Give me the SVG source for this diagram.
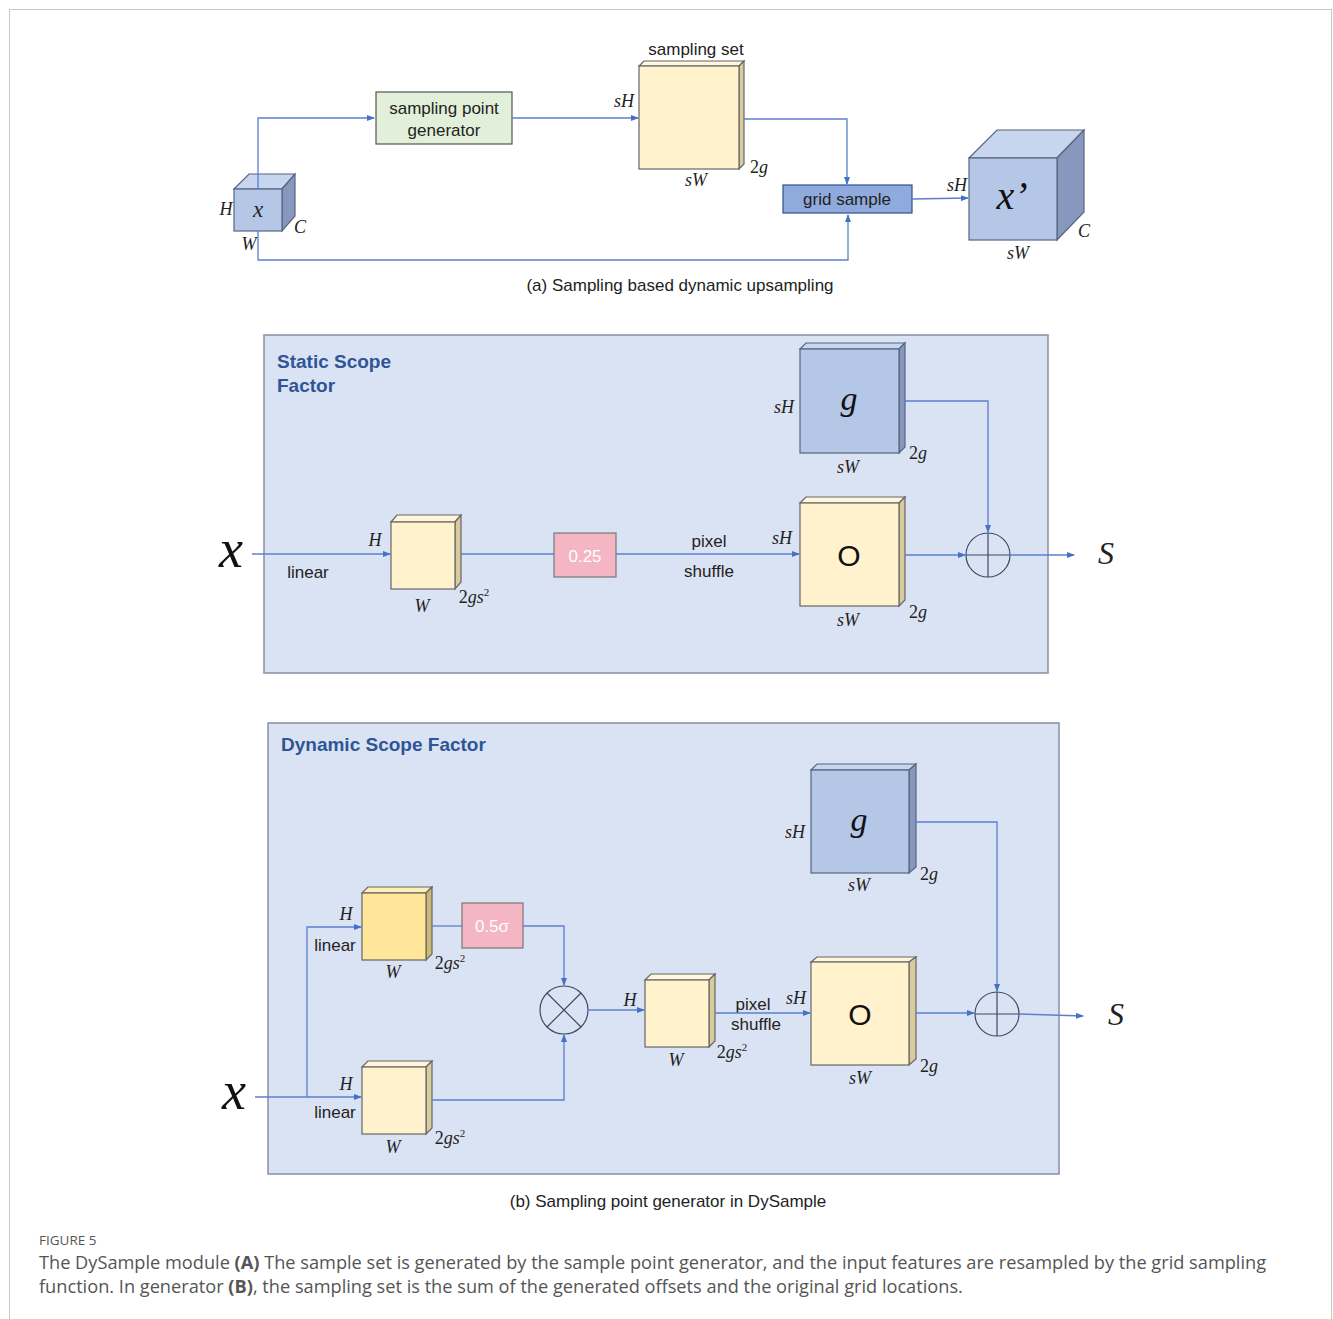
<svg xmlns="http://www.w3.org/2000/svg" width="1333" height="1319" viewBox="0 0 1333 1319">
<style>
.t{font-family:"Liberation Sans",Arial,sans-serif;fill:#222;text-anchor:middle}
.m{font-family:"Liberation Serif","DejaVu Serif",serif;font-style:italic;fill:#222;text-anchor:middle}
.big{font-family:"Liberation Serif","DejaVu Serif",serif;font-style:italic;fill:#111;text-anchor:middle}
.ttl{font-family:"Liberation Sans",Arial,sans-serif;font-weight:bold;font-size:19px;fill:#2f5597}
.c{fill:none;stroke:#5b7fcf;stroke-width:1.3}
.bf{fill:#b4c7e7;stroke:#56657f;stroke-width:1.2}
.bt{fill:#c8d5ee;stroke:#56657f;stroke-width:1.2}
.bs{fill:#8797bd;stroke:#56657f;stroke-width:1.2}
.yf{fill:#fff2cc;stroke:#666;stroke-width:1.2}
.yt{fill:#fff6dc;stroke:#666;stroke-width:1.2}
.ys{fill:#d8cb9c;stroke:#666;stroke-width:1.2}
.df{fill:#ffe699;stroke:#666;stroke-width:1.2}
.dt{fill:#ffefbb;stroke:#666;stroke-width:1.2}
.ds{fill:#cdb874;stroke:#666;stroke-width:1.2}
.panel{fill:#dae3f3;stroke:#8590a3;stroke-width:1.5}
.pink{fill:#f4b6c2;stroke:#777;stroke-width:1.2}
.op{fill:none;stroke:#3c4a66;stroke-width:1.2}
.cap{font-family:"Open Sans","Liberation Sans",sans-serif;fill:#555}
</style>
<defs>
<marker id="ah" markerUnits="userSpaceOnUse" markerWidth="8" markerHeight="6" refX="7" refY="3" orient="auto">
<path d="M0,0 L8,3 L0,6 z" fill="#4472c4"/>
</marker>
</defs>
<rect x="9.5" y="9.5" width="1322" height="1330" fill="#fff" stroke="#c8c8c8" stroke-width="1"/>

<!-- panels -->
<g id="static-panel">
<rect class="panel" x="264" y="335" width="784" height="338"/>
<text class="ttl" x="277" y="368">Static Scope</text>
<text class="ttl" x="277" y="392">Factor</text>
</g>
<g id="dynamic-panel">
<rect class="panel" x="268" y="723" width="791" height="451"/>
<text class="ttl" x="281" y="751">Dynamic Scope Factor</text>
</g>

<!-- section (a) -->
<g id="x-cube">
<polygon class="bt" points="234,189 249,174 295,174 282,189"/>
<polygon class="bs" points="282,189 295,174 295,216 282,231"/>
<rect class="bf" x="234" y="189" width="48" height="42"/>
<text class="m" x="258" y="217" font-size="23">x</text>
<text class="m" x="226" y="215" font-size="18">H</text>
<text class="m" x="300" y="233" font-size="18">C</text>
<text class="m" x="249" y="250" font-size="18">W</text>
</g>
<g id="sampling-point-generator">
<rect x="376" y="92" width="136" height="52" fill="#e2f0d9" stroke="#555" stroke-width="1.2"/>
<text class="t" x="444" y="114" font-size="17">sampling point</text>
<text class="t" x="444" y="136" font-size="17">generator</text>
</g>
<g id="sampling-set">
<polygon class="yt" points="639,66 644,61 744,61 739,66"/>
<polygon class="ys" points="739,66 744,61 744,164 739,169"/>
<rect class="yf" x="639" y="66" width="100" height="103"/>
<text class="t" x="696" y="55" font-size="17">sampling set</text>
<text class="m" x="624" y="107" font-size="18">sH</text>
<text class="m" x="696" y="186" font-size="18">sW</text>
<text class="m" x="759" y="173" font-size="18"><tspan font-style="normal">2</tspan>g</text>
</g>
<g id="grid-sample">
<rect x="783" y="185" width="129" height="28" fill="#8faadc" stroke="#2f4f8f" stroke-width="1.2"/>
<text class="t" x="847" y="205" font-size="17">grid sample</text>
</g>
<g id="x-prime-cube">
<polygon class="bt" points="969,158 997,130 1084,130 1057,158"/>
<polygon class="bs" points="1057,158 1084,130 1084,212 1057,240"/>
<rect class="bf" x="969" y="158" width="88" height="82"/>
<text class="big" x="1012" y="209" font-size="40">x’</text>
<text class="m" x="957" y="191" font-size="18">sH</text>
<text class="m" x="1084" y="237" font-size="18">C</text>
<text class="m" x="1018" y="259" font-size="18">sW</text>
</g>
<text class="t" x="680" y="291" font-size="17">(a) Sampling based dynamic upsampling</text>

<!-- static section -->
<g id="s-x">
<text class="big" x="231" y="567" font-size="54">x</text>
<text class="t" x="308" y="578" font-size="17">linear</text>
</g>
<g id="s-feat">
<polygon class="yt" points="391,522 397,515 461,515 455,522"/>
<polygon class="ys" points="455,522 461,515 461,582 455,589"/>
<rect class="yf" x="391" y="522" width="64" height="67"/>
<text class="m" x="375" y="546" font-size="18">H</text>
<text class="m" x="422" y="612" font-size="18">W</text>
<text class="m" x="474" y="603" font-size="18"><tspan font-style="normal">2</tspan>gs<tspan font-style="normal" font-size="11" dy="-7">2</tspan></text>
</g>
<g id="s-025">
<rect class="pink" x="554" y="533" width="62" height="44"/>
<text class="t" x="585" y="562" font-size="17" style="fill:#fff">0.25</text>
</g>
<g id="s-pixel-shuffle">
<text class="t" x="709" y="547" font-size="17">pixel</text>
<text class="t" x="709" y="577" font-size="17">shuffle</text>
</g>
<g id="s-g">
<polygon class="bt" points="800,349 806,343 905,343 899,349"/>
<polygon class="bs" points="899,349 905,343 905,447 899,453"/>
<rect class="bf" x="800" y="349" width="99" height="104"/>
<text class="big" x="849" y="410" font-size="34">g</text>
<text class="m" x="784" y="413" font-size="18">sH</text>
<text class="m" x="848" y="473" font-size="18">sW</text>
<text class="m" x="918" y="459" font-size="18"><tspan font-style="normal">2</tspan>g</text>
</g>
<g id="s-O">
<polygon class="yt" points="800,503 806,497 905,497 899,503"/>
<polygon class="ys" points="899,503 905,497 905,600 899,606"/>
<rect class="yf" x="800" y="503" width="99" height="103"/>
<text class="t" x="849" y="566" font-size="30" style="fill:#111">O</text>
<text class="m" x="782" y="544" font-size="18">sH</text>
<text class="m" x="848" y="626" font-size="18">sW</text>
<text class="m" x="918" y="618" font-size="18"><tspan font-style="normal">2</tspan>g</text>
</g>
<g id="s-plus">
<circle class="op" cx="988" cy="555" r="22"/>
<path class="op" d="M966,555 H1010 M988,533 V577"/>
</g>
<text id="s-S" class="m" x="1106" y="564" font-size="32">S</text>

<!-- dynamic section -->
<g id="d-x">
<text class="big" x="234" y="1109" font-size="54">x</text>
</g>
<g id="d-feat-top">
<polygon class="dt" points="362,893 368,887 432,887 426,893"/>
<polygon class="ds" points="426,893 432,887 432,954 426,960"/>
<rect class="df" x="362" y="893" width="64" height="67"/>
<text class="m" x="346" y="920" font-size="18">H</text>
<text class="t" x="335" y="951" font-size="17">linear</text>
<text class="m" x="393" y="978" font-size="18">W</text>
<text class="m" x="450" y="969" font-size="18"><tspan font-style="normal">2</tspan>gs<tspan font-style="normal" font-size="11" dy="-7">2</tspan></text>
</g>
<g id="d-05sigma">
<rect class="pink" x="462" y="903" width="61" height="45"/>
<text class="t" x="492" y="932" font-size="17" style="fill:#fff">0.5σ</text>
</g>
<g id="d-feat-bottom">
<polygon class="yt" points="362,1067 368,1061 432,1061 426,1067"/>
<polygon class="ys" points="426,1067 432,1061 432,1128 426,1134"/>
<rect class="yf" x="362" y="1067" width="64" height="67"/>
<text class="m" x="346" y="1090" font-size="18">H</text>
<text class="t" x="335" y="1118" font-size="17">linear</text>
<text class="m" x="393" y="1153" font-size="18">W</text>
<text class="m" x="450" y="1144" font-size="18"><tspan font-style="normal">2</tspan>gs<tspan font-style="normal" font-size="11" dy="-7">2</tspan></text>
</g>
<g id="d-times">
<circle class="op" cx="564" cy="1010" r="24"/>
<path class="op" d="M547,993 L581,1027 M581,993 L547,1027"/>
</g>
<g id="d-feat-mid">
<polygon class="yt" points="645,980 651,974 715,974 709,980"/>
<polygon class="ys" points="709,980 715,974 715,1041 709,1047"/>
<rect class="yf" x="645" y="980" width="64" height="67"/>
<text class="m" x="630" y="1006" font-size="18">H</text>
<text class="m" x="676" y="1066" font-size="18">W</text>
<text class="m" x="732" y="1058" font-size="18"><tspan font-style="normal">2</tspan>gs<tspan font-style="normal" font-size="11" dy="-7">2</tspan></text>
</g>
<g id="d-pixel-shuffle">
<text class="t" x="753" y="1010" font-size="17">pixel</text>
<text class="t" x="756" y="1030" font-size="17">shuffle</text>
</g>
<g id="d-g">
<polygon class="bt" points="811,770 817,764 916,764 909,770"/>
<polygon class="bs" points="909,770 916,764 916,867 909,873"/>
<rect class="bf" x="811" y="770" width="98" height="103"/>
<text class="big" x="859" y="831" font-size="34">g</text>
<text class="m" x="795" y="838" font-size="18">sH</text>
<text class="m" x="859" y="891" font-size="18">sW</text>
<text class="m" x="929" y="880" font-size="18"><tspan font-style="normal">2</tspan>g</text>
</g>
<g id="d-O">
<polygon class="yt" points="811,962 817,957 916,957 909,962"/>
<polygon class="ys" points="909,962 916,957 916,1059 909,1065"/>
<rect class="yf" x="811" y="962" width="98" height="103"/>
<text class="t" x="860" y="1025" font-size="30" style="fill:#111">O</text>
<text class="m" x="796" y="1004" font-size="18">sH</text>
<text class="m" x="860" y="1084" font-size="18">sW</text>
<text class="m" x="929" y="1072" font-size="18"><tspan font-style="normal">2</tspan>g</text>
</g>
<g id="d-plus">
<circle class="op" cx="997" cy="1014" r="22"/>
<path class="op" d="M975,1014 H1019 M997,992 V1036"/>
</g>
<text id="d-S" class="m" x="1116" y="1025" font-size="32">S</text>
<text class="t" x="668" y="1207" font-size="17">(b) Sampling point generator in DySample</text>

<!-- connectors -->
<g id="connectors">
<path class="c" d="M258,189 V118 H374" marker-end="url(#ah)"/>
<path class="c" d="M258,231 V260 H848 V215" marker-end="url(#ah)"/>
<path class="c" d="M512,118 H638" marker-end="url(#ah)"/>
<path class="c" d="M744,119 H847 V184" marker-end="url(#ah)"/>
<path class="c" d="M912,199 L968,198" marker-end="url(#ah)"/>
<path class="c" d="M252,554 H390" marker-end="url(#ah)"/>
<path class="c" d="M461,554 H554"/>
<path class="c" d="M616,554 H799" marker-end="url(#ah)"/>
<path class="c" d="M905,401 H988 V532" marker-end="url(#ah)"/>
<path class="c" d="M905,555 H965" marker-end="url(#ah)"/>
<path class="c" d="M1010,555 H1074" marker-end="url(#ah)"/>
<path class="c" d="M255,1097 H361" marker-end="url(#ah)"/>
<path class="c" d="M307,1097 V927 H361" marker-end="url(#ah)"/>
<path class="c" d="M432,926 H462"/>
<path class="c" d="M523,926 H564 V985" marker-end="url(#ah)"/>
<path class="c" d="M432,1100 H564 V1035" marker-end="url(#ah)"/>
<path class="c" d="M588,1010 H644" marker-end="url(#ah)"/>
<path class="c" d="M715,1013 H810" marker-end="url(#ah)"/>
<path class="c" d="M916,822 H997 V991" marker-end="url(#ah)"/>
<path class="c" d="M916,1013 H974" marker-end="url(#ah)"/>
<path class="c" d="M1019,1014 L1083,1016" marker-end="url(#ah)"/>
</g>

<!-- figure caption -->
<g id="caption">
<text class="cap" x="39" y="1245" font-size="13.5">FIGURE 5</text>
<text class="cap" x="39" y="1269" font-size="18.2">The DySample module <tspan font-weight="bold">(A)</tspan> The sample set is generated by the sample point generator, and the input features are resampled by the grid sampling</text>
<text class="cap" x="39" y="1293" font-size="18.2">function. In generator <tspan font-weight="bold">(B)</tspan>, the sampling set is the sum of the generated offsets and the original grid locations.</text>
</g>
</svg>
